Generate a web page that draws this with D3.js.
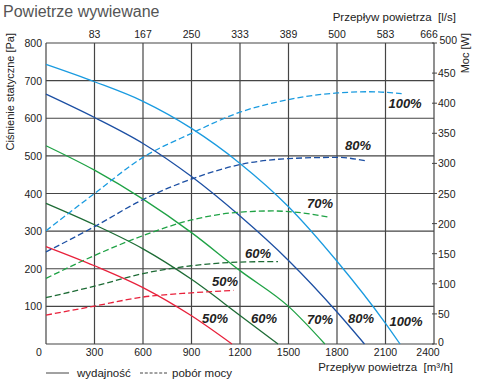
<!DOCTYPE html>
<html><head><meta charset="utf-8">
<script src="https://cdn.jsdelivr.net/npm/d3@7"></script>
<style>body{margin:0;background:#fff}svg{display:block}text{font-family:"Liberation Sans",Arial,sans-serif}</style>
</head><body><svg id="c" width="480" height="380"></svg>
<script>
const bottomTicks = [0,300,600,900,1200,1500,1800,2100,2400];
const topTickLabels = ["83","167","250","333","389","500","583","666"];
const leftTicks = [100,200,300,400,500,600,700,800];
const rightTicks = [0,50,100,150,200,250,300,350,400,450,500];
const seriesNames = ["100%","80%","70%","60%","50%"];
const seriesColors = ["#1a9be0","#1c4fa3","#1fa245","#1d6b35","#e8213b"];
const pressure100 = [[0,743],[300,697],[600,645],[900,573],[1200,480],[1500,365],[1800,220],[2100,55],[2190,0]];
const pressure80  = [[0,664],[300,602],[600,533],[900,445],[1200,340],[1500,222],[1800,85],[1970,0]];
const pressure70  = [[0,527],[300,462],[600,385],[900,296],[1200,195],[1500,100],[1725,0]];
const pressure60  = [[0,374],[300,317],[600,253],[900,172],[1200,76],[1435,0]];
const pressure50  = [[0,259],[300,208],[600,150],[900,75],[1150,0]];
const power100 = [[0,188],[300,250],[600,310],[900,350],[1200,385],[1500,406],[1800,417],[2000,419],[2200,416]];
const power80  = [[0,153],[300,195],[600,240],[900,274],[1200,298],[1500,308],[1800,310],[1985,304]];
const power70  = [[0,109],[300,147],[600,180],[900,206],[1200,219],[1400,221],[1500,220],[1745,211]];
const power60  = [[0,77],[300,96],[600,117],[900,130],[1200,136],[1435,137]];
const power50  = [[0,48],[300,63],[600,78],[900,85],[1160,89]];
const powerLabelPos = [[2221,400],[1930,329],[1695,233],[1311,151],[1107,103]];
const pressureLabelPos = [[2227,61],[1949,69],[1695,66],[1349,69],[1045,69]];

const pressures = [pressure100,pressure80,pressure70,pressure60,pressure50];
const powers = [power100,power80,power70,power60,power50];

const svg = d3.select("#c");
const L=46,R=434,T=43,B=344;
const x = d3.scaleLinear().domain([0,2400]).range([L,R]);
const yP = d3.scaleLinear().domain([0,800]).range([B,T]);
const yW = d3.scaleLinear().domain([0,500]).range([B,T]);
const grid="#454545", txt="#222";

// grid
const g = svg.append("g");
g.selectAll("line.v").data(bottomTicks).join("line")
  .attr("x1",d=>x(d)).attr("x2",d=>x(d)).attr("y1",T).attr("y2",B)
  .attr("stroke",grid).attr("stroke-width",1.2);
g.selectAll("line.h").data([0].concat(leftTicks)).join("line")
  .attr("x1",L).attr("x2",R).attr("y1",d=>yP(d)).attr("y2",d=>yP(d))
  .attr("stroke",grid).attr("stroke-width",1.2);
g.selectAll("line.rt").data(rightTicks).join("line")
  .attr("x1",R-2).attr("x2",R+3).attr("y1",d=>yW(d)).attr("y2",d=>yW(d))
  .attr("stroke",grid).attr("stroke-width",1);

// tick labels
const fs=10.5;
svg.selectAll("text.l").data(leftTicks).join("text")
  .attr("x",42).attr("y",d=>yP(d)+4).attr("text-anchor","end")
  .attr("font-size",fs).attr("fill",txt).text(d=>d);
svg.selectAll("text.b").data(bottomTicks).join("text")
  .attr("x",(d,i)=>i===0?39:(i===bottomTicks.length-1?x(d)-6:x(d)))
  .attr("y",356).attr("text-anchor","middle")
  .attr("font-size",fs).attr("fill",txt).text(d=>d);
svg.selectAll("text.t").data(topTickLabels).join("text")
  .attr("x",(d,i)=>i===topTickLabels.length-1?x(bottomTicks[i+1])-5:x(bottomTicks[i+1]))
  .attr("y",38).attr("text-anchor","middle")
  .attr("font-size",fs).attr("fill",txt).text(d=>d);
svg.selectAll("text.r").data(rightTicks).join("text")
  .attr("x",(d,i)=>i===rightTicks.length-1?439.5:438)
  .attr("y",(d,i)=>i===0?yW(d)+2:(i===rightTicks.length-1?yW(d)+0.5:yW(d)+4))
  .attr("text-anchor","start")
  .attr("font-size",fs).attr("fill",txt).text(d=>d);

// titles
svg.append("text").attr("x",3).attr("y",17).attr("font-size",16).attr("fill","#555").text("Powietrze wywiewane");
svg.append("text").attr("x",456).attr("y",21).attr("text-anchor","end").attr("font-size",11.5).attr("fill",txt).style("white-space","pre").text("Przepływ powietrza  [l/s]");
svg.append("text").attr("x",453).attr("y",371).attr("text-anchor","end").attr("font-size",11.5).attr("fill",txt).style("white-space","pre").text("Przepływ powietrza  [m³/h]");
svg.append("text").attr("transform","translate(14,33) rotate(-90)").attr("text-anchor","end").attr("font-size",11).attr("fill",txt).text("Ciśnienie statyczne [Pa]");
svg.append("text").attr("transform","translate(469,33) rotate(-90)").attr("text-anchor","end").attr("font-size",11).attr("fill",txt).text("Moc [W]");

// curves
const lineP = d3.line().x(d=>x(d[0])).y(d=>yP(d[1])).curve(d3.curveMonotoneX);
const lineW = d3.line().x(d=>x(d[0])).y(d=>yW(d[1])).curve(d3.curveMonotoneX);
svg.selectAll("path.p").data(pressures).join("path")
  .attr("d",lineP).attr("fill","none").attr("stroke",(d,i)=>seriesColors[i]).attr("stroke-width",1.3);
svg.selectAll("path.w").data(powers).join("path")
  .attr("d",lineW).attr("fill","none").attr("stroke",(d,i)=>seriesColors[i]).attr("stroke-width",1.3)
  .attr("stroke-dasharray","6,3");

// series labels
function addLabels(pos, yscale){
  svg.selectAll(null).data(pos).join("text")
    .attr("x",d=>x(d[0])).attr("y",d=>yscale(d[1])+4.5)
    .attr("font-size",13).attr("font-weight","bold").attr("font-style","italic")
    .attr("fill","#222").attr("text-anchor","middle").text((d,i)=>seriesNames[i]);
}
addLabels(powerLabelPos, yW);
addLabels(pressureLabelPos, yP);

// legend
svg.append("line").attr("x1",46).attr("x2",69).attr("y1",373).attr("y2",373).attr("stroke","#444").attr("stroke-width",1);
svg.append("text").attr("x",77).attr("y",377).attr("font-size",11.5).attr("fill",txt).text("wydajność");
svg.append("line").attr("x1",140).attr("x2",167).attr("y1",373).attr("y2",373).attr("stroke","#444").attr("stroke-width",1).attr("stroke-dasharray","3,1.8");
svg.append("text").attr("x",172).attr("y",377).attr("font-size",11.5).attr("fill",txt).text("pobór mocy");
</script></body></html>
